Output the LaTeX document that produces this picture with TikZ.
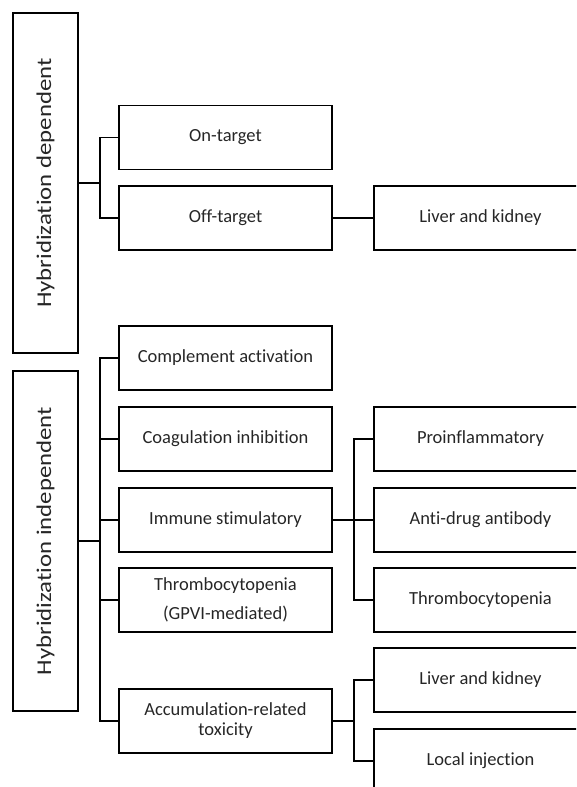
\documentclass[tikz,border=0pt]{standalone}
\usepackage{fontspec}
\setmainfont{Carlito}[Ligatures=NoCommon]
\usepackage{graphicx}
\tikzset{
	leaf/.style={draw, line width=1.8pt, minimum width=213pt, minimum height=64pt, inner sep=2pt, align=center, text=black!85, font=\fontsize{18.5}{22}\selectfont},
	side/.style={draw, line width=1.8pt, rotate=90, minimum width=340pt, minimum height=65pt, inner sep=0pt, text=black!85, font=\fontsize{21}{24}\selectfont},
	link/.style={line width=1.8pt}
}

\begin{document}
\begin{tikzpicture}[x=1pt, y=-1pt]
			\useasboundingbox (0,0) rectangle (576,787);
			\clip (0,0) rectangle (576,787);
			% groups
			\node[side] (dep) at (45.5,183) {\scalebox{1.18}[1]{Hybridization dependent}};
			\node[side] (indep) at (45.5,541) {\scalebox{1.18}[1]{Hybridization independent}};
			
			% middle column
			\foreach \name/\y/\txt in {ontarget/137.5/On-target, offtarget/218/Off-target, compl/358/Complement activation, coag/439/Coagulation inhibition, immune/520/Immune stimulatory}
				\node[leaf] (\name) at (225.5,\y) {\txt};
			\node[leaf, font=\fontsize{18.5}{29}\selectfont] (gpvi) at (225.5,600) {Thrombocytopenia\\(GPVI-mediated)};
			\node[leaf, font=\fontsize{18.5}{20}\selectfont] (accum) at (225.5,721) {Accumulation-related\\toxicity};
			
			% right column
			\foreach \name/\y/\txt in {liverA/218/Liver and kidney, proinfl/439/Proinflammatory, ada/520/Anti-drug antibody, thromb/600/Thrombocytopenia, liverB/680/Liver and kidney, local/761/Local injection}
				\node[leaf] (\name) at (480.5,\y) {\txt};
			
			% connectors
			\foreach \b in {ontarget, offtarget}
				\draw[link] (dep.south) -- +(21,0) |- (\b.west);
			\foreach \b in {compl, coag, immune, gpvi, accum}
				\draw[link] (indep.south) -- +(21,0) |- (\b.west);
			\draw[link] (offtarget.east) -- (liverA.west);
			\foreach \b in {proinfl, ada, thromb}
				\draw[link] (immune.east) -- +(21,0) |- (\b.west);
			\foreach \b in {liverB, local}
				\draw[link] (accum.east) -- +(21,0) |- (\b.west);
		\end{tikzpicture}
\end{document}
